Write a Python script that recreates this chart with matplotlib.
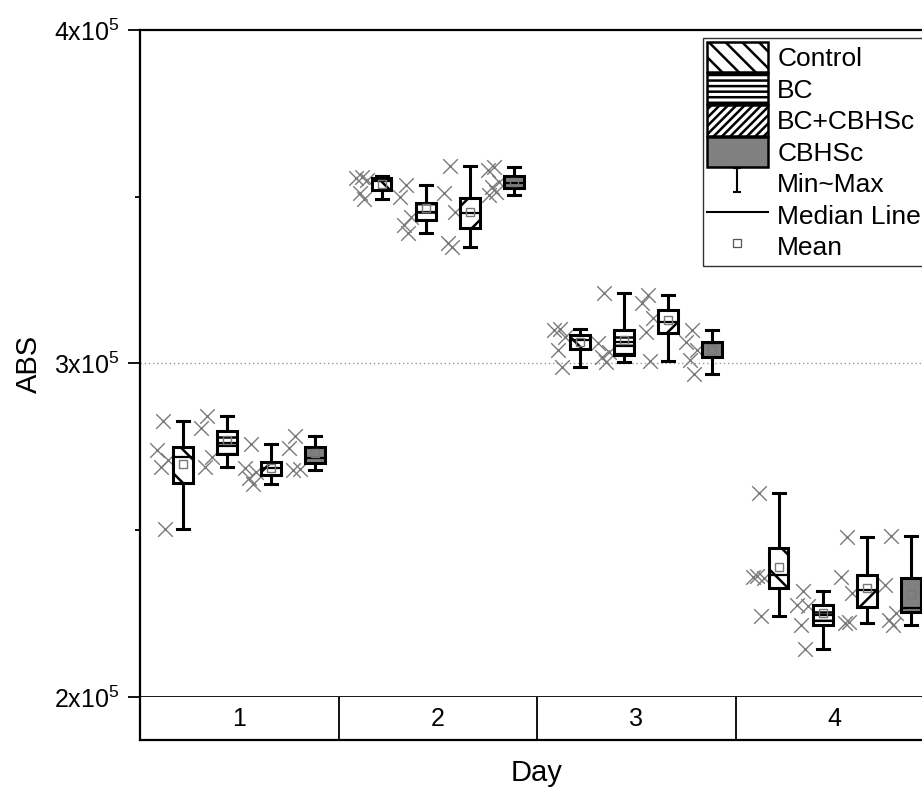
import numpy as np
import matplotlib
matplotlib.use('Agg')
import matplotlib.pyplot as plt
from matplotlib.patches import Patch
from matplotlib.lines import Line2D
from matplotlib.path import Path
from matplotlib.ticker import MultipleLocator

plt.rcParams['font.family'] = ['Liberation Sans', 'DejaVu Sans']
plt.rcParams['mathtext.fontset'] = 'custom'
plt.rcParams['mathtext.rm'] = 'Liberation Sans'
plt.rcParams['mathtext.default'] = 'regular'
plt.rcParams['hatch.linewidth'] = 1.8

days = [1, 2, 3, 4]
groups = ['Control', 'BC', 'BC+CBHSc', 'CBHSc']
ytick_vals = [2e5, 3e5, 4e5]
ytick_labels = ['2x10$^5$', '3x10$^5$', '4x10$^5$']

# box statistics, rows = groups, columns = days
stat_min = [[250400, 349400, 299000, 224300],
            [269000, 339200, 300500, 214400],
            [263900, 335000, 300800, 222200],
            [268100, 350600, 296900, 221600]]
stat_q1 = [[264200, 352100, 304400, 232700],
           [272900, 343100, 302600, 221600],
           [266600, 340700, 309200, 227000],
           [270200, 352700, 302000, 225500]]
stat_med = [[272000, 354800, 307100, 236600],
            [276200, 345500, 306500, 224600],
            [268700, 345200, 312500, 232100],
            [271700, 354200, 306200, 226700]]
stat_q3 = [[275000, 355700, 308600, 244700],
           [279800, 348200, 310100, 227600],
           [270500, 349700, 316100, 236600],
           [275000, 356300, 306500, 235700]]
stat_max = [[282800, 356300, 310400, 261200],
            [284300, 353600, 321200, 231800],
            [275900, 359300, 320600, 248000],
            [278300, 359000, 310100, 248300]]
stat_mean = [[269900, 353900, 306500, 239000],
             [277100, 346700, 307100, 225200],
             [268700, 345500, 313100, 232700],
             [273200, 354500, 304100, 230900]]

# raw data points per day
ctrl_pts = [[282800, 274100, 271100, 269000, 250400],
            [356000, 355700, 355100, 351200, 349400],
            [310400, 310100, 308000, 304100, 299000],
            [261200, 236000, 235700, 236300, 224300]]
bc_pts = [[284300, 280700, 272000, 269000],
          [353600, 350000, 344000, 341600, 339200],
          [321200, 306200, 303500, 302000, 300500],
          [231800, 227600, 227400, 221600, 214400]]
bccb_pts = [[275900, 268700, 267500, 265700, 263900],
            [359300, 351200, 345500, 336200, 335000],
            [320600, 318200, 313700, 309500, 300800],
            [248000, 236000, 231200, 222200, 222400]]
cb_pts = [[278300, 274700, 268500, 268100],
          [359000, 358100, 354500, 353000, 351500, 350600],
          [310100, 306500, 304100, 301100, 296900],
          [248300, 233600, 225200, 223100, 221600]]
all_pts = [ctrl_pts, bc_pts, bccb_pts, cb_pts]

# styling
offsets = [-0.283, -0.061, 0.161, 0.383]
jitter = [-0.10, -0.13, -0.075, -0.11, -0.09, -0.125]
hatches = ['\\', '--', '/', '']
leg_hatches = ['\\\\', '---', '////', '']
faces = ['white', 'white', 'white', '#808080']
W, H = 922, 787

fig = plt.figure(figsize=(W / 100, H / 100), dpi=100)
left, right = 140, 934
ax = fig.add_axes([left / W, (H - 697) / H, (right - left) / W, 667 / H])
ax2 = fig.add_axes([left / W, (H - 740) / H, (right - left) / W, 43 / H])

for g in range(4):
    pos = [d + offsets[g] for d in days]
    for i, d in enumerate(days):
        ys = all_pts[g][i]
        xs = [pos[i] + jitter[k % len(jitter)] for k in range(len(ys))]
        ax.scatter(xs, ys, marker='x', s=110, color='#7a7a7a', linewidths=1.0, zorder=2)
    stats = []
    for i in range(4):
        stats.append(dict(whislo=stat_min[g][i], q1=stat_q1[g][i], med=stat_med[g][i],
                          q3=stat_q3[g][i], whishi=stat_max[g][i], mean=stat_mean[g][i],
                          fliers=[]))
    bp = ax.bxp(stats, positions=pos, widths=0.1, capwidths=0.06, patch_artist=True,
                showmeans=True, showfliers=False,
                boxprops=dict(facecolor=faces[g], edgecolor='black', linewidth=2.2),
                whiskerprops=dict(color='black', linewidth=2.2),
                capprops=dict(color='black', linewidth=2.2),
                medianprops=dict(color='black', linewidth=1.6),
                meanprops=dict(marker='s', markersize=6, markerfacecolor='none',
                               markeredgecolor='#777777', markeredgewidth=1.0))
    for b in bp['boxes']:
        b.set_hatch(hatches[g])
        b.set_zorder(3)
    for k in ['whiskers', 'caps', 'medians', 'means']:
        for a in bp[k]:
            a.set_zorder(4)

ax.set_xlim(0.5, 4.5)
ax.set_ylim(2e5, 4e5)
ax.set_xticks([])
ax.set_yticks(ytick_vals)
ax.set_yticklabels(ytick_labels)
ax.yaxis.set_minor_locator(MultipleLocator(0.5e5))
ax.tick_params(axis='y', which='major', length=8.5, width=1.3, labelsize=18, pad=6)
ax.tick_params(axis='y', which='minor', length=3.5, width=1.3)
ax.axhline(3e5, color='#9a9a9a', linestyle=(0, (1, 2)), linewidth=1.0, zorder=1)
for s in ax.spines.values():
    s.set_linewidth(1.6)
ax.spines['bottom'].set_linewidth(2.0)
ax.set_ylabel('ABS', fontsize=21, labelpad=8)

ax2.set_xlim(0.5, 4.5)
ax2.set_ylim(0, 1)
ax2.set_xticks([])
ax2.set_yticks([])
ax2.spines['top'].set_visible(False)
ax2.spines['right'].set_visible(False)
for s in ['left', 'bottom']:
    ax2.spines[s].set_linewidth(1.6)
for d in days:
    ax2.text(d, 0.5, str(d), ha='center', va='center', fontsize=18)
for d in days[:-1]:
    ax2.axvline(d + 0.5, color='black', linewidth=1.3)
fig.text(537 / W, 1 - 773 / H, 'Day', ha='center', va='center', fontsize=21)

# legend
ibar = Path([(-0.35, -1), (0.35, -1), (0, -1), (0, 1), (-0.35, 1), (0.35, 1)],
            [Path.MOVETO, Path.LINETO, Path.MOVETO, Path.LINETO, Path.MOVETO, Path.LINETO])
handles = [Patch(facecolor=faces[g], edgecolor='black', hatch=leg_hatches[g], linewidth=1.8)
           for g in range(4)]
handles += [Line2D([], [], marker=ibar, linestyle='none', markersize=17,
                   markeredgecolor='black', markeredgewidth=1.5),
            Line2D([], [], color='black', linewidth=1.5),
            Line2D([], [], marker='s', linestyle='none', markersize=5.5,
                   markerfacecolor='none', markeredgecolor='#555555', markeredgewidth=0.9)]
labels = groups + ['Min~Max', 'Median Line', 'Mean']
leg = fig.legend(handles, labels, loc='upper left', bbox_to_anchor=(703 / W, 1 - 38 / H),
                 fontsize=19, frameon=True, fancybox=False, edgecolor='black',
                 handlelength=2.3, handleheight=1.4, handletextpad=0.36,
                 labelspacing=0.04, borderpad=0.15, borderaxespad=0)
leg.get_frame().set_linewidth(1.0)

fig.savefig('out.png', dpi=100)
